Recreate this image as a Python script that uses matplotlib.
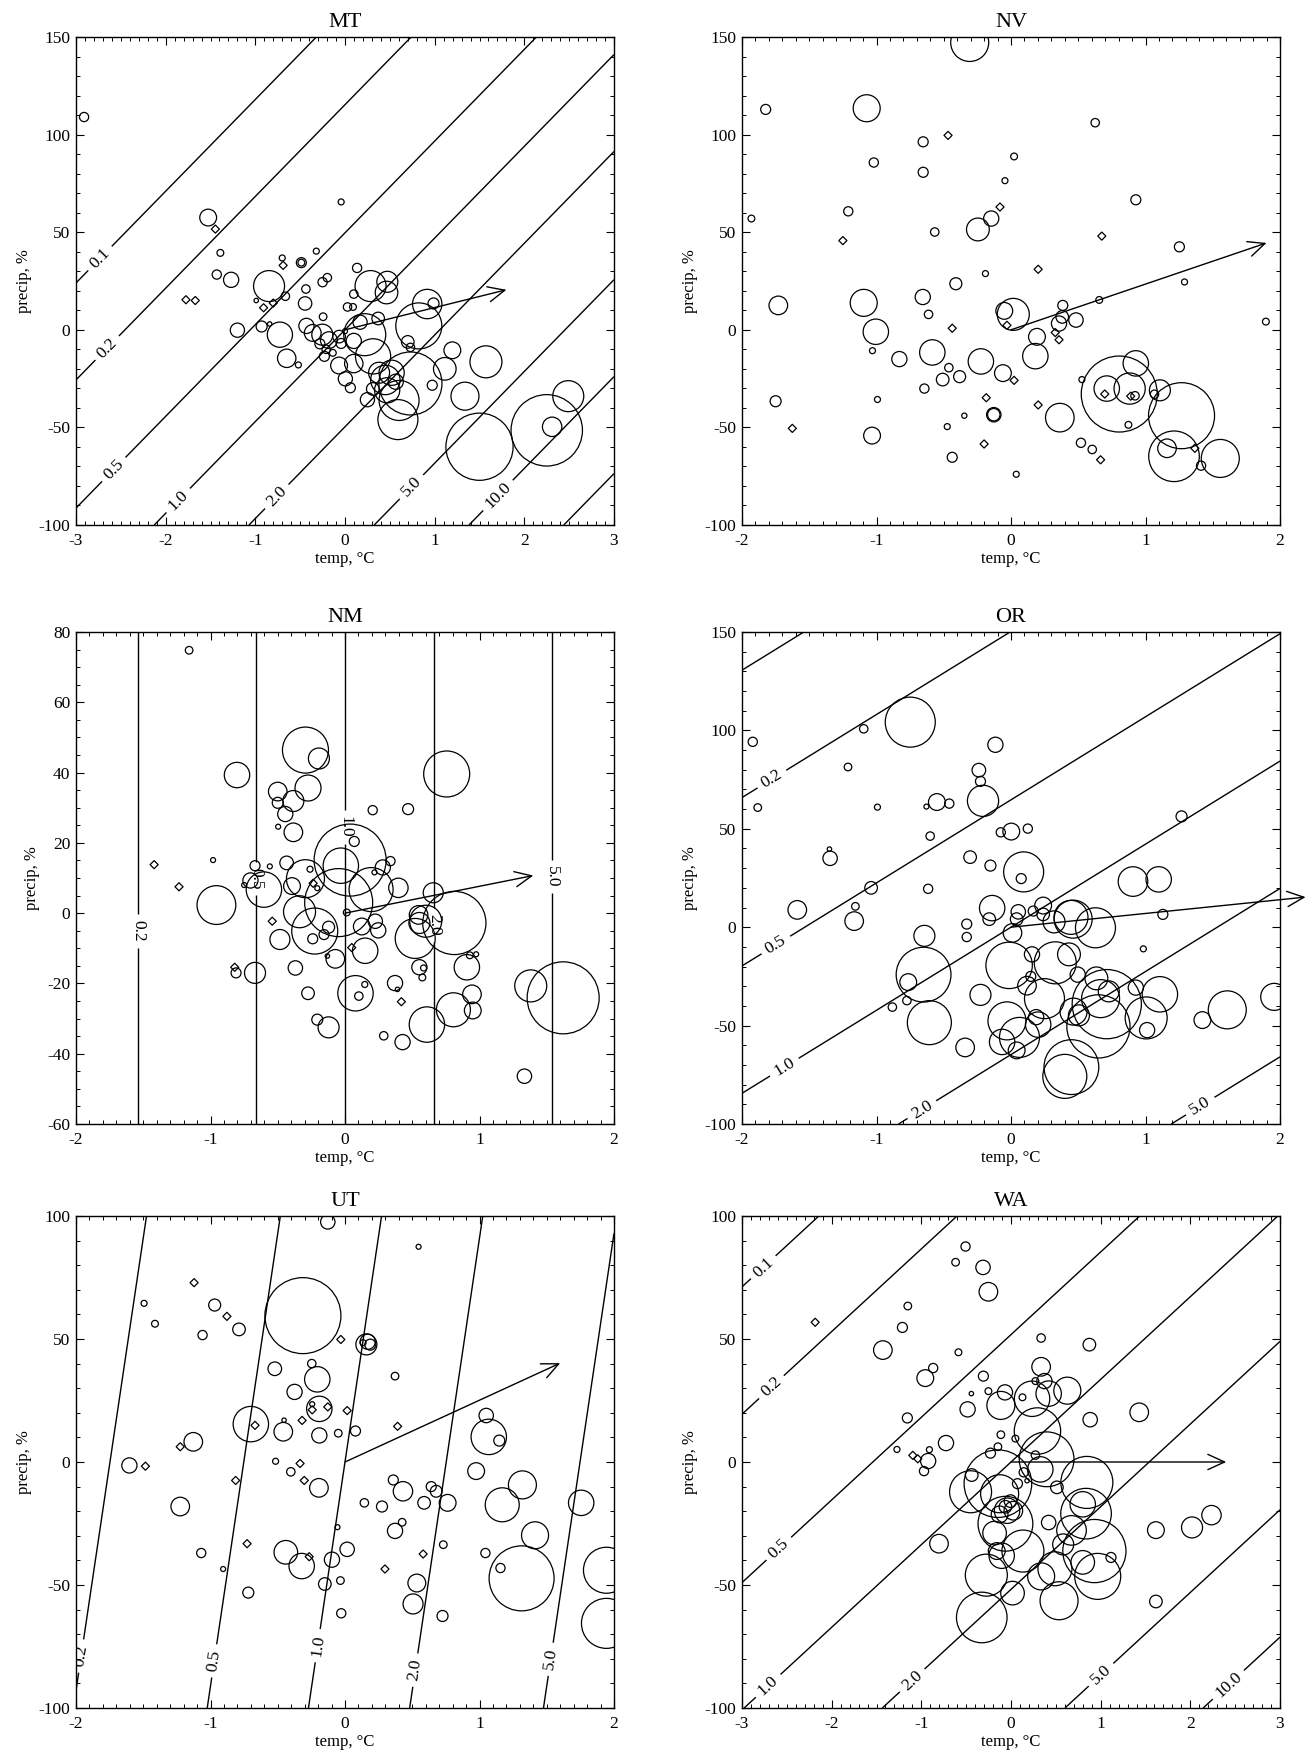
import numpy as np
import matplotlib
matplotlib.use("Agg")
import matplotlib.pyplot as plt
from matplotlib.ticker import MultipleLocator

plt.rcParams['font.family'] = ['Liberation Serif', 'DejaVu Serif']
plt.rcParams['axes.unicode_minus'] = False
plt.rcParams['contour.negative_linestyle'] = 'solid'

# ---------------- DATA ----------------
# circles: temp change (T, degC), precip change (P, %), magnitude (R, drawn radius px)
MT_T = [-2.91, -1.526, -1.39, -1.43, -1.27, -1.20, -0.99, -0.93, -0.84, -0.847, -0.665, -0.726, -0.65,
        -0.52, -0.70, -0.487, -0.487, -0.32, -0.436, -0.445, -0.25, -0.197, -0.043, 0.135, -0.244, -0.43,
        -0.36, -0.253, -0.18, -0.28, -0.21, -0.23, -0.136, -0.066, -0.043, 0.0, 0.028, 0.098, 0.089, 0.168,
        0.098, 0.098, -0.066, 0.004, 0.06, 0.25, 0.22, 0.285, 0.37, 0.472, 0.463, 0.313, 0.38, 0.45, 0.566,
        0.52, 0.603, 0.59, 0.47, 0.31, 0.73, 0.823, 0.917, 0.987, 0.70, 0.73, 0.973, 1.113, 1.197, 1.338,
        1.572, 1.50, 2.25, 2.31, 2.49]
MT_P = [109, 57.5, 39.4, 28.3, 25.6, -0.2, 15, 1.7, 3, 22.4, 17.2, -2.5, -14.6,
        -18, 36.8, 34.4, 34.4, 40.3, 20.9, 13.5, 24.4, 26.7, 65.5, 31.7, 6.7, 2,
        -1.6, -2.5, -5.3, -7.2, -10, -13.6, -11.8, -3.5, -7, -0.7, 11.7, 18.3, 11.7, 3.9,
        -5.7, -17.3, -18.3, -25.1, -29.7, -35.8, -2.5, 22.4, 5.8, 24.6, 19.1, -13.6, -22, -25.7, -26.6,
        -22, -36.2, -46, -31, -30.3, -27.5, 2, 13.2, 13.5, -6.2, -9, -28.4, -20, -10.5, -34,
        -16.4, -59.9, -51.5, -49.7, -34]
MT_R = [4.6, 8.4, 3.4, 4.6, 7.6, 7.1, 2.2, 5.5, 2.2, 15.5, 4.2, 12.6, 9.2,
        3, 3, 5, 3.4, 3, 4.2, 6.7, 4.6, 4.2, 3, 4.6, 3.8, 7.6,
        8.4, 10.5, 8.4, 5, 4.2, 5, 3.4, 6.3, 5, 2.5, 4.2, 4.2, 3.4, 7.1,
        7.6, 9.2, 8.4, 7.1, 5, 7.1, 21, 15.5, 6.3, 10.5, 11.3, 17.6, 10.5, 14.7, 7.6,
        12.6, 20, 20, 12.6, 6.3, 31.5, 23, 14.7, 5.5, 6.3, 4.2, 5, 11.3, 8.4, 14,
        16, 33.6, 35.7, 9.7, 15.5]
MT_DT = [-1.446, -1.774, -1.67, -0.908, -0.80, -0.69]
MT_DP = [51.6, 15.4, 15.0, 11.3, 13.7, 33]

NV_T = [-0.307, -1.824, -1.93, -1.73, -1.75, -1.073, -1.02, -1.21, -1.095, -1.005, -1.03, -0.993, -1.033,
        -0.83, -0.653, -0.653, -0.567, -0.656, -0.613, -0.41, -0.585, -0.462, -0.508, -0.382, -0.644,
        -0.474, -0.437, -0.347, -0.246, -0.147, -0.19, -0.045, 0.023, -0.224, -0.06, -0.128, -0.128,
        0.039, -0.05, 0.017, 0.193, 0.181, 0.363, 0.357, 0.381, 0.385, 0.483, 0.52, 0.527, 0.604, 0.626,
        0.656, 0.805, 0.712, 0.882, 0.928, 0.928, 0.873, 0.922, 1.067, 1.107, 1.268, 1.212, 1.16, 1.413,
        1.556, 1.252, 1.29, 1.895]
NV_P = [147.2, 112.9, 57, 12.5, -36.6, 113.5, 85.7, 60.7, 13.8, -1, -10.7, -35.7, -54.2,
        -15, 96.3, 80.7, 50.1, 16.8, 7.9, 23.6, -11.6, -19.4, -25.5, -24, -30.1,
        -49.6, -65.3, -44, 51.4, 57, 28.8, 76.4, 88.8, -16.2, -22.2, -43.5, -43.5,
        -74, 9.7, 7.9, -3.6, -13.5, -45, 3.2, 6.6, 12.5, 5, -57.9, -25.5, -61.3, 106.1,
        15.3, -32.9, -30.1, -30.1, -17.2, 66.6, -48.7, -33.8, -33, -31, -44, -64.8, -60.7, -69.6,
        -65.9, 42.5, 24.5, 4.2]
NV_R = [19, 5, 3.4, 9.3, 5.5, 13.5, 4.6, 4.6, 13.5, 12.7, 3, 3, 8.4,
        7.6, 5, 5, 4.2, 7.6, 4.2, 6, 12.7, 4.2, 6.3, 6, 4.6,
        3, 5, 2.6, 11.4, 7.6, 3, 3, 3.4, 12.7, 8.4, 7.2, 6.2,
        3, 8.4, 16, 8.4, 12.7, 14.3, 7.6, 6.3, 5, 7.2, 4.6, 3, 4.2, 4.2,
        3.4, 38, 12.7, 15.6, 12.7, 5, 3.4, 4.2, 4.2, 10.5, 33, 25.3, 9.3, 4.6,
        19, 5, 3, 3.4]
NV_DT = [-1.626, -1.25, -0.468, -0.437, -0.082, -0.184, -0.2, 0.023, -0.03, 0.202, 0.202, 0.329,
         0.357, 0.666, 0.675, 0.697, 1.367, 0.89]
NV_DP = [-50.5, 45.7, 99.6, 0.8, 62.9, -34.8, -58.5, -25.9, 2.3, 31, -38.5, -1.4,
         -5.1, -66.6, 48, -32.9, -60.7, -34]

NM_T = [-1.159, -0.981, -0.956, -0.803, -0.81, -0.669, -0.703, -0.75, -0.603, -0.669, -0.559, -0.5, -0.5,
        -0.497, -0.444, -0.384, -0.384, -0.434, -0.394, -0.484, -0.338, -0.369, -0.294, -0.194, -0.275,
        -0.294, -0.225, -0.24, -0.26, -0.206, -0.122, -0.156, -0.131, -0.072, -0.275, -0.206, -0.122,
        -0.031, 0.038, -0.047, 0.069, 0.013, 0.194, 0.206, 0.281, 0.338, 0.219, 0.125, 0.225, 0.247,
        0.15, 0.078, 0.103, 0.147, 0.397, 0.469, 0.372, 0.39, 0.288, 0.428, 0.522, 0.547, 0.553, 0.6,
        0.553, 0.575, 0.584, 0.656, 0.756, 0.609, 0.813, 0.806, 0.906, 0.928, 0.975, 0.944, 0.95,
        1.381, 1.622, 1.334]
NM_P = [74.8, 15.1, 2.3, 39.3, -17, 13.5, 9.3, 8, 6.7, -17, 13.3, 34.6, 31.4,
        24.6, 28.2, 31.9, 23, 14.3, 7.7, -7.5, 0.4, -15.6, 46.4, 44, 35.6,
        9.8, -5.1, -7.3, 12.5, 7.1, -4, -6.1, -12.2, -13, -22.8, -30.3, -32.5,
        13.5, 15.1, 3, 20.4, 0.2, 6.7, 29.3, 13, 14.8, 11.6, -3.8, -2.3, -4.9,
        -10.7, -22.8, -23.6, -20.3, 7.2, 29.6, -19.9, -21.7, -34.9, -36.7, -7.2, -0.5, -2.8, -2.3,
        -15.4, -18.3, -15.6, 5.8, 39.6, -31.7, -2.8, -27.5, -15.4, -12, -11.7, -23.1, -27.7,
        -20.7, -24.1, -46.4]
NM_R = [3.8, 2.5, 19.4, 12.7, 5, 5, 7.6, 2.5, 17.7, 10.5, 2.5, 9.3, 5.5,
        2.5, 7.6, 10.5, 9.3, 6.8, 8.4, 10, 16, 7.2, 23, 10.5, 13,
        19, 23, 5, 3, 2.5, 6, 5, 2.2, 9.3, 6.3, 5.5, 10.5,
        17.7, 36, 34, 5, 3.4, 22, 4.6, 7.6, 4.6, 2.5, 8.4, 7.2, 7.6,
        12.7, 17.7, 4.2, 3, 9.7, 5.5, 7.6, 2.2, 4.2, 7.6, 20, 9.3, 10.5, 16,
        7.6, 3.4, 3, 10, 23, 17.7, 31.6, 17, 12.7, 3.4, 2.5, 9.3, 8.4,
        16, 36, 7.2]
NM_DT = [-1.419, -1.234, -0.82, -0.541, -0.237, 0.05, 0.419]
NM_DP = [13.8, 7.5, -15.4, -2.3, 8.5, -9.8, -25.2]

OR_T = [-1.92, -1.883, -1.589, -1.345, -1.35, -1.212, -1.095, -1.157, -1.166, -1.04, -0.993, -0.882, -0.774,
        -0.764, -0.749, -0.629, -0.551, -0.459, -0.601, -0.616, -0.644, -0.65, -0.607, -0.304, -0.329,
        -0.329, -0.227, -0.341, -0.239, -0.227, -0.208, -0.116, -0.153, -0.14, -0.162, -0.076, 0.002,
        0.125, 0.094, 0.076, 0.054, 0.042, 0.011, 0.165, 0.239, 0.239, -0.014, 0.156, 0.147, 0.119,
        0.249, 0.187, 0.202, -0.03, -0.066, 0.063, 0.042, 0.329, 0.32, 0.446, 0.462, 0.431, 0.496,
        0.465, 0.505, 0.449, 0.4, 0.628, 0.635, 0.666, 0.727, 0.65, 0.712, 0.907, 1.098, 1.129, 0.984,
        0.928, 1.107, 1.005, 1.012, 1.268, 1.423, 1.608, 1.957]
OR_P = [94.2, 60.8, 8.8, 35, 39.7, 81.4, 100.8, 10.6, 3.1, 20, 61, -40.6, -37.3,
        -27.9, 104.2, 61.3, 63.6, 62.8, 46.3, 19.5, -4.4, -24.1, -48.5, 35.6, 1.6,
        -5, -34.4, -61.1, 79.8, 74.1, 64.2, 92.7, 31.3, 9.7, 4.1, 48.2, 48.6,
        50.1, 28.1, 24.7, 7.8, 4.1, -2.9, 8.2, 11.0, 6.5, -19.4, -13.8, -25, -29.7,
        -36.3, -45.7, -49.5, -47.6, -58.3, -56, -62.6, -18.1, 2.7, 5, 4.1, -13.8, -24.1,
        -42.9, -44.8, -71.1, -75.8, -0.3, -26, -36.3, -32.6, -50.4, -39.1, 23.2, 24.3, 6.5, -11,
        -30.7, -34.1, -46.1, -52.3, 56.3, -47.2, -42, -35.4]
OR_R = [4.6, 3.8, 9.3, 7.2, 2.2, 3.8, 4.2, 3.8, 9.3, 6.3, 3, 4.2, 4.2,
        8.4, 25, 2.5, 8.4, 4.6, 4.2, 4.6, 10.5, 27.4, 22, 6.3, 5,
        4.6, 10.5, 9.3, 6.8, 5, 15.6, 7.6, 5.5, 12.7, 6.3, 4.6, 8.4,
        4.6, 20, 5, 7.2, 6.3, 9.3, 5, 8.4, 6.3, 23.2, 7.6, 5, 9.3,
        20, 7.6, 12.7, 19, 12.7, 20, 8.4, 21, 11, 17, 19, 11.4, 7.6,
        13.5, 10.5, 27.4, 22, 20, 11.4, 19, 10.5, 31.6, 34.6, 14.8, 12.7, 5, 3,
        7.6, 17.7, 21, 7.6, 5.5, 8.4, 19, 13.5]
OR_DT = []
OR_DP = []

UT_T = [-1.603, -1.494, -1.413, -0.969, -1.059, -0.788, -1.128, -1.225, -1.069, -0.906, -0.719, -0.7,
        -0.522, -0.516, -0.459, -0.453, -0.403, -0.375, -0.44, -0.322, -0.313, -0.247, -0.206, -0.191,
        -0.244, -0.191, -0.194, -0.097, -0.15, -0.128, -0.05, -0.034, -0.028, -0.056, 0.016, 0.078,
        0.159, 0.169, 0.188, 0.134, 0.144, 0.275, 0.372, 0.359, 0.431, 0.372, 0.425, 0.547, 0.534,
        0.506, 0.588, 0.641, 0.678, 0.763, 0.731, 0.725, 0.975, 1.05, 1.069, 1.147, 1.044, 1.156,
        1.169, 1.319, 1.313, 1.413, 1.756, 1.944, 1.944]
UT_P = [-1.4, 64.5, 56.2, 63.8, 51.6, 53.9, 8.2, -18.1, -37, -43.5, -53.1, 15.4,
        37.9, 0.3, 12.3, 17, -4, 28.5, -36.7, -42.3, 59.5, 40, 33.6, 21.6,
        23.5, 10.8, -10.5, -39.7, -49.6, 97.6, 11.7, -48.2, -61.5, -26.5, -35.5, 12.6,
        47.8, 48.9, 47.7, 48.5, -16.6, -18.1, 34.9, -7.3, -11.9, -28, -24.5, 87.5, -49.2,
        -57.7, -16.6, -10, -11.9, -16.6, -33.6, -62.6, -3.7, 18.9, 10.2, 8.7, -37, -43.1,
        -17.4, -9.3, -47.3, -29.8, -16.6, -44, -65.6]
UT_R = [7.6, 3, 3.4, 6, 4.6, 6.3, 9.3, 9.3, 4.6, 2.5, 5.5, 17.7,
        6.8, 3, 9.3, 2.2, 4.2, 7.6, 11.8, 12.7, 38, 4.2, 12.7, 12.7,
        2.5, 7.6, 9.3, 7.6, 6.3, 7.2, 3.8, 3.8, 4.6, 2.5, 7.2, 5,
        10.5, 7.6, 5.5, 3, 4.2, 5.5, 3.8, 5, 9.7, 7.6, 3.8, 2.5, 8.9,
        10, 6.3, 5, 5.9, 8.4, 3.8, 5.5, 8.4, 7.2, 17.7, 5.5, 4.6, 4.6,
        17, 14, 32.5, 13.5, 12.7, 23, 25]
UT_DT = [-1.484, -1.122, -0.878, -1.225, -0.813, -0.728, -0.669, -0.334, -0.303, -0.319, -0.244,
         -0.128, -0.266, -0.031, 0.016, 0.297, 0.391, 0.581]
UT_DP = [-1.7, 72.9, 59.2, 6.2, -7.5, -33.2, 14.9, -0.6, -7.5, 16.9, 21.2,
         22.4, -38.5, 49.8, 20.9, -43.5, 14.5, -37.4]

WA_T = [-0.507, -0.618, -0.312, -0.252, -1.151, -1.211, -1.429, -0.586, -0.868, -0.956, -0.308, -0.252,
        -0.442, -0.484, -1.156, -0.725, -1.272, -0.924, -0.91, -0.97, -0.146, -0.229, -0.113, 0.049,
        -0.067, 0.128, -0.113, 0.235, 0.336, 0.336, 0.272, 0.373, 0.42, 0.628, 0.874, 0.883, 1.43,
        0.295, 0.272, 0.397, 0.327, 0.072, 0.142, 0.179, 0.512, -0.146, -0.451, -0.438, -0.127,
        -0.062, -0.006, -0.044, -0.127, 0.026, -0.062, -0.183, -0.104, -0.159, 0.133, 0.42, 0.49,
        0.336, -0.275, 0.017, -0.326, 0.536, 0.675, 0.582, 0.837, 0.8, 0.846, 0.93, 0.967, 0.8,
        1.115, 1.616, 2.019, 2.236, 1.616, -0.803]
WA_P = [87.6, 81.2, 79.1, 69.2, 63.4, 54.7, 45.5, 44.6, 38.2, 34.1, 34.9, 28.8,
        27.8, 21.4, 17.9, 7.7, 5.1, 0.4, 5, -3.7, 6.2, 3.6, 11.1, 9.5,
        28.3, 26.3, 23, 25.7, 38.7, 50.4, 32.9, 32.9, 27.8, 29, 47.7, 17.2, 20.2,
        12.6, 2.8, 1.1, -3, -8.8, -4.2, -7.6, -10.3, -8.8, -12.1, -5.3, -12.9,
        -25.1, -15.9, -19.8, -21.3, -19.8, -18.2, -28.9, -38.1, -36.2, -36.2, -24.6, -43.4,
        -46.5, -46, -53.3, -63.2, -56.4, -27.8, -33.5, -21, -17.2, -8.3, -36.2, -46.5, -40.8,
        -38.8, -27.7, -26.6, -21.6, -56.7, -33.2]
WA_R = [4.6, 3.8, 7.2, 9.3, 3.8, 5, 9.3, 3.4, 4.6, 8.4, 5, 3.4,
        2.2, 7.6, 5, 7.6, 3, 7.6, 3, 4.6, 3.8, 5, 3.8, 3.4,
        7.6, 3.4, 14, 17.7, 9.3, 4.2, 3.4, 7.6, 12.7, 13.5, 6.3, 7.2, 9.3,
        23.2, 4.2, 27.4, 12.7, 5, 4.6, 2.2, 6.3, 33.8, 21, 6.3, 19,
        27.4, 6.3, 12.7, 8.4, 9.3, 6.3, 11.8, 12.7, 8.4, 21, 7.2, 17,
        13.5, 21, 11.8, 25.3, 19, 14.8, 10.5, 25.3, 12.7, 26, 31.6, 23, 11.8,
        5, 8.4, 10.5, 9.7, 6.3, 9.3]
WA_DT = [-2.184, -1.095, -1.04]
WA_DP = [56.8, 2.7, 1.3]

# arrow tips (from origin)
ARROW_MT = (1.80, 20.5)
ARROW_NV = (1.90, 44.5)
ARROW_NM = (1.40, 10.7)
ARROW_OR = (2.19, 15.3)
ARROW_UT = (1.60, 40.2)
ARROW_WA = (2.40, 0.0)

# ratio isolines: log10(ratio) = cT*T + cP*P
MODEL_MT = (47.0 / 165.0, -1.0 / 165.0)
MODEL_NM = (1.0 / 2.2, 0.0)
MODEL_OR = (42.2 / 215.0, -1.0 / 215.0)
MODEL_UT = (368.0 / 920.0, -1.0 / 920.0)
MODEL_WA = (33.6 / 172.0, -1.0 / 172.0)

# labelled isolines and unlabelled ones
LABELS_MT = [0.1, 0.2, 0.5, 1.0, 2.0, 5.0, 10.0]
PLAIN_MT = [20.0]
LABELS_NM = [0.2, 0.5, 1.0, 2.0, 5.0]
PLAIN_NM = []
LABELS_OR = [0.2, 0.5, 1.0, 2.0, 5.0]
PLAIN_OR = [0.1]
LABELS_UT = [0.2, 0.5, 1.0, 2.0, 5.0]
PLAIN_UT = []
LABELS_WA = [0.1, 0.2, 0.5, 1.0, 2.0, 5.0, 10.0]
PLAIN_WA = []

# ---------------- LAYOUT ----------------
W, H = 1313, 1759
fig = plt.figure(figsize=(W / 100, H / 100), dpi=100)

def frac(x0, y0, x1, y1):
    return [x0 / W, 1 - y1 / H, (x1 - x0) / W, (y1 - y0) / H]

LEFT = (76, 614)
RIGHT = (742, 1280)
ROWS = [(37, 525), (632, 1124), (1216, 1708)]

# label placement (layout only)
LABPOS_MT = [(-2.72, 36), (-2.66, -9), (-2.59, -71), (-1.87, -87), (-0.77, -85), (0.73, -80), (1.71, -85)]
LABPOS_NM = [(-1.55, -5), (-0.67, 9.8), (0.0, 24.5), (0.65, -3.3), (1.52, 10.4)]
LABPOS_OR = [(-1.775, 75), (-1.744, -9.5), (-1.682, -71.5), (-0.678, -91), (1.39, -89)]
LABPOS_UT = [(-1.947, -79), (-0.978, -80.8), (-0.197, -74.7), (0.522, -84.6), (1.506, -80)]
LABPOS_WA = [(-2.708, 77), (-2.66, 30), (-2.57, -36), (-2.708, -91), (-1.11, -88.5), (0.953, -84.5), (2.436, -91)]

TICK_FS = 12.5
LABEL_FS = 12
TITLE_FS = 16


def panel(rect, name, xlim, ylim, ymajor, yminor, cT, cP, cR, dT, dP, tip,
          model=None, labels=None, plain=None, labpos=None):
    ax = fig.add_axes(rect)
    ax.set_xlim(*xlim)
    ax.set_ylim(*ylim)
    if model is not None:
        tt = np.linspace(xlim[0], xlim[1], 301)
        pp = np.linspace(ylim[0], ylim[1], 301)
        TT, PP = np.meshgrid(tt, pp)
        L = model[0] * TT + model[1] * PP
        lv = [float(np.log10(v)) for v in labels]
        cs = ax.contour(TT, PP, L, levels=lv, colors='k', linewidths=1.0,
                        linestyles='solid')
        fmt = {l: '%.1f' % v for l, v in zip(lv, labels)}
        ax.clabel(cs, manual=labpos, inline=True, fmt=fmt,
                  fontsize=TICK_FS, inline_spacing=6)
        if plain:
            pl = [float(np.log10(v)) for v in plain]
            ax.contour(TT, PP, L, levels=pl, colors='k', linewidths=1.0,
                       linestyles='solid')
    r = np.asarray(cR, dtype=float)
    ax.scatter(cT, cP, s=(2 * r * 0.72) ** 2, facecolors='none', edgecolors='k',
               linewidths=0.9, zorder=3)
    if len(dT):
        ax.scatter(dT, dP, marker='D', s=17, facecolors='none', edgecolors='k',
                   linewidths=0.9, zorder=3)
    ax.annotate('', xy=tip, xytext=(0, 0), xycoords='data', textcoords='data',
                arrowprops=dict(arrowstyle='->,head_length=1.2,head_width=0.55',
                                color='k', lw=1.0, shrinkA=0, shrinkB=0),
                annotation_clip=False, zorder=4)
    ax.xaxis.set_major_locator(MultipleLocator(1))
    ax.xaxis.set_minor_locator(MultipleLocator(0.1))
    ax.yaxis.set_major_locator(MultipleLocator(ymajor))
    ax.yaxis.set_minor_locator(MultipleLocator(yminor))
    ax.tick_params(which='both', direction='in', top=True, right=True, labelsize=TICK_FS)
    ax.tick_params(which='major', length=6, width=0.8)
    ax.tick_params(which='minor', length=3, width=0.7)
    ax.tick_params(axis='x', pad=6)
    ax.tick_params(axis='y', pad=4)
    for s in ax.spines.values():
        s.set_linewidth(1.0)
    ax.set_title(name, fontsize=TITLE_FS, pad=7)
    ax.set_xlabel('temp, \u00b0C', fontsize=LABEL_FS, labelpad=1)
    ax.set_ylabel('precip, %', fontsize=LABEL_FS, labelpad=5)
    return ax


panel(frac(LEFT[0], ROWS[0][0], LEFT[1], ROWS[0][1]), 'MT', (-3, 3), (-100, 150), 50, 10,
      MT_T, MT_P, MT_R, MT_DT, MT_DP, ARROW_MT, MODEL_MT, LABELS_MT, PLAIN_MT, LABPOS_MT)
panel(frac(RIGHT[0], ROWS[0][0], RIGHT[1], ROWS[0][1]), 'NV', (-2, 2), (-100, 150), 50, 10,
      NV_T, NV_P, NV_R, NV_DT, NV_DP, ARROW_NV)
panel(frac(LEFT[0], ROWS[1][0], LEFT[1], ROWS[1][1]), 'NM', (-2, 2), (-60, 80), 20, 5,
      NM_T, NM_P, NM_R, NM_DT, NM_DP, ARROW_NM, MODEL_NM, LABELS_NM, PLAIN_NM, LABPOS_NM)
panel(frac(RIGHT[0], ROWS[1][0], RIGHT[1], ROWS[1][1]), 'OR', (-2, 2), (-100, 150), 50, 10,
      OR_T, OR_P, OR_R, OR_DT, OR_DP, ARROW_OR, MODEL_OR, LABELS_OR, PLAIN_OR, LABPOS_OR)
panel(frac(LEFT[0], ROWS[2][0], LEFT[1], ROWS[2][1]), 'UT', (-2, 2), (-100, 100), 50, 10,
      UT_T, UT_P, UT_R, UT_DT, UT_DP, ARROW_UT, MODEL_UT, LABELS_UT, PLAIN_UT, LABPOS_UT)
panel(frac(RIGHT[0], ROWS[2][0], RIGHT[1], ROWS[2][1]), 'WA', (-3, 3), (-100, 100), 50, 10,
      WA_T, WA_P, WA_R, WA_DT, WA_DP, ARROW_WA, MODEL_WA, LABELS_WA, PLAIN_WA, LABPOS_WA)

fig.savefig('out.png', dpi=100)
